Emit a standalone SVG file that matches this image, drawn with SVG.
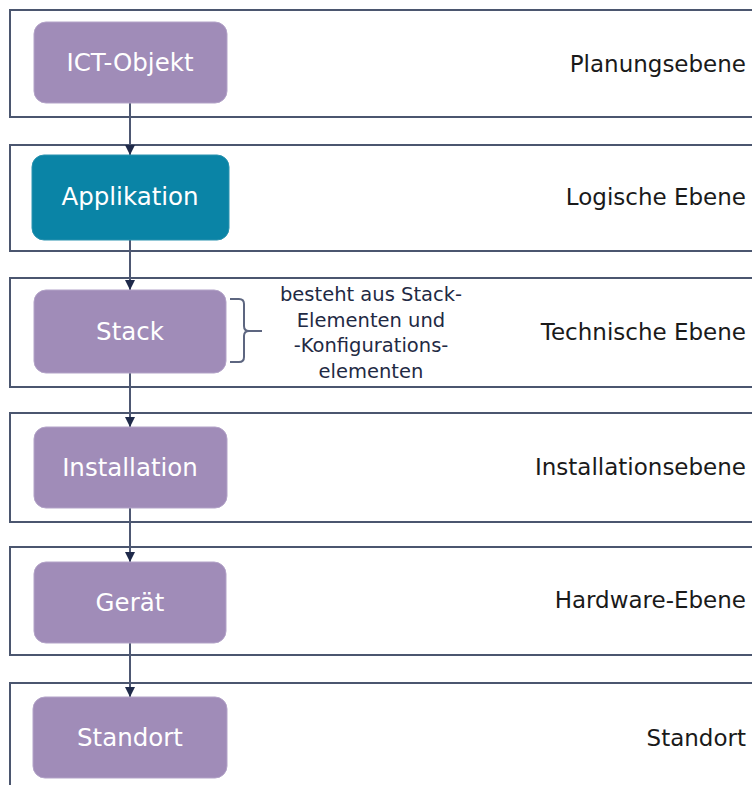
<svg xmlns="http://www.w3.org/2000/svg" width="752" height="785" viewBox="0 0 752 785">
<defs>
<style>
.layer{fill:#ffffff;stroke:#4b566f;stroke-width:2}
.node{fill:#a08cb8;stroke:#b3a3c8;stroke-width:1}
.nodeA{fill:#0a84a6;stroke:#2a93b0;stroke-width:1}
.nlabel{font-family:"DejaVu Sans",Verdana,sans-serif;font-size:24.5px;fill:#ffffff;text-anchor:middle}
.rlabel{font-family:"DejaVu Sans",Verdana,sans-serif;font-size:23px;fill:#1a1a1a;text-anchor:end}
.note{font-family:"DejaVu Sans",Verdana,sans-serif;font-size:19.5px;fill:#1f2a44;text-anchor:middle}
.conn{stroke:#4e5873;stroke-width:2;fill:none}
.brace{stroke:#5d6680;stroke-width:2;fill:none}
</style>
<marker id="arr" viewBox="0 0 10 10" refX="10" refY="5" markerWidth="10" markerHeight="10" markerUnits="userSpaceOnUse" orient="auto">
<path d="M0,0 L10,5 L0,10 Z" fill="#1f2a4a"/>
</marker>
</defs>
<rect width="752" height="785" fill="#ffffff"/>
<g id="layers">
<rect class="layer" x="10" y="10" width="760" height="107"/>
<rect class="layer" x="10" y="145" width="760" height="106"/>
<rect class="layer" x="10" y="278" width="760" height="109"/>
<rect class="layer" x="10" y="413" width="760" height="109"/>
<rect class="layer" x="10" y="547" width="760" height="108"/>
<rect class="layer" x="10" y="683" width="760" height="130"/>
</g>
<g id="layer-labels">
<text class="rlabel" x="746" y="72">Planungsebene</text>
<text class="rlabel" x="746" y="205">Logische Ebene</text>
<text class="rlabel" x="746" y="340">Technische Ebene</text>
<text class="rlabel" x="746" y="475">Installationsebene</text>
<text class="rlabel" x="746" y="608">Hardware-Ebene</text>
<text class="rlabel" x="746" y="746">Standort</text>
</g>
<g id="connectors">
<line class="conn" x1="130" y1="103" x2="130" y2="155" marker-end="url(#arr)"/>
<line class="conn" x1="130" y1="240" x2="130" y2="290" marker-end="url(#arr)"/>
<line class="conn" x1="130" y1="373" x2="130" y2="427" marker-end="url(#arr)"/>
<line class="conn" x1="130" y1="508" x2="130" y2="562" marker-end="url(#arr)"/>
<line class="conn" x1="130" y1="643" x2="130" y2="697" marker-end="url(#arr)"/>
</g>
<g id="node-ict">
<rect class="node" x="34" y="22" width="193" height="81" rx="12"/>
<text class="nlabel" x="130" y="71">ICT-Objekt</text>
</g>
<g id="node-applikation">
<rect class="nodeA" x="32" y="155" width="197" height="85" rx="12"/>
<text class="nlabel" x="130" y="205">Applikation</text>
</g>
<g id="node-stack">
<rect class="node" x="34" y="290" width="192" height="83" rx="12"/>
<text class="nlabel" x="130" y="340">Stack</text>
</g>
<g id="node-installation">
<rect class="node" x="34" y="427" width="193" height="81" rx="12"/>
<text class="nlabel" x="130" y="476">Installation</text>
</g>
<g id="node-geraet">
<rect class="node" x="34" y="562" width="192" height="81" rx="12"/>
<text class="nlabel" x="130" y="611">Gerät</text>
</g>
<g id="node-standort">
<rect class="node" x="33" y="697" width="194" height="81" rx="12"/>
<text class="nlabel" x="130" y="746">Standort</text>
</g>
<g id="stack-note">
<path class="brace" d="M230,299 H239 Q244,299 244,304 V326 Q244,331 249,331 H262 M249,331 Q244,331 244,336 V357 Q244,362 239,362 H230"/>
<text class="note" x="371" y="301">besteht aus Stack-</text>
<text class="note" x="371" y="327">Elementen und</text>
<text class="note" x="371" y="352">-Konfigurations-</text>
<text class="note" x="371" y="378">elementen</text>
</g>
</svg>
